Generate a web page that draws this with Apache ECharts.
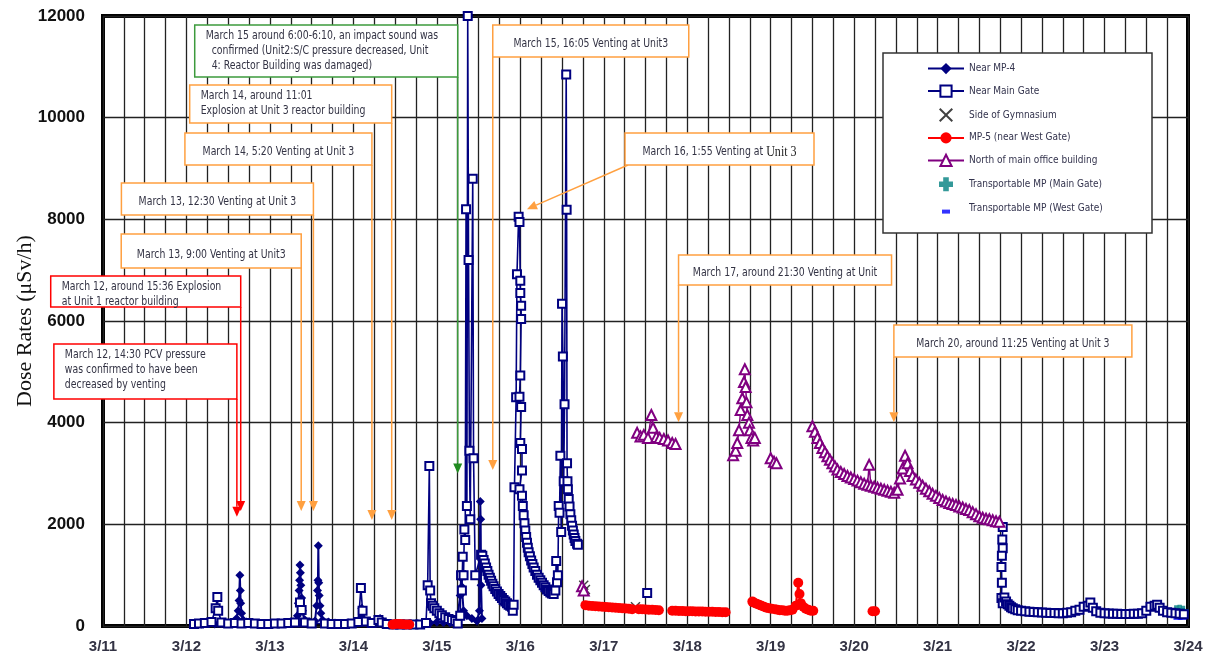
<!DOCTYPE html>
<html>
<head>
<meta charset="utf-8">
<title>Dose Rates</title>
<script src="https://cdn.jsdelivr.net/npm/echarts@6/dist/echarts.min.js"></script>
</head>
<body style="margin:0">
<div id="container" style="width:1211px;height:658px"></div>
<script>
// x = day of March (11.5 = March 11, 12:00), y = dose rate in uSv/h, '-' breaks a line
const nearMP4 = [
  [12.10,30],[12.18,40],[12.26,50],[12.34,40],[12.42,50],[12.50,60],[12.56,80],[12.60,150],[12.62,300],[12.63,500],
  [12.64,1000],[12.645,700],[12.65,450],[12.66,250],[12.68,120],[12.72,80],[12.80,60],[12.88,50],[12.96,50],[13.04,40],
  [13.12,50],[13.20,60],[13.28,80],[13.33,200],[13.34,450],[13.35,700],[13.355,900],[13.36,1200],[13.365,1050],[13.37,800],
  [13.38,550],[13.39,300],[13.42,120],[13.48,80],[13.54,100],[13.56,400],[13.57,700],[13.575,900],[13.58,1580],[13.585,850],
  [13.59,600],[13.60,400],[13.61,250],[13.63,120],[13.70,80],[13.78,60],[13.86,50],[13.94,60],[14.02,70],[14.08,150],
  [14.10,350],[14.11,250],[14.13,120],[14.20,80],[14.28,100],[14.32,150],[14.36,80],[14.44,50],[14.52,40],[14.60,40],
  [14.68,40],[14.76,40],[14.84,50],[14.92,60],[15.00,80],[15.08,70],[15.16,60],[15.24,80],[15.28,600],[15.29,950],
  [15.30,770],[15.32,300],[15.36,200],[15.42,150],[15.48,100],[15.51,300],[15.52,2450],[15.525,2100],[15.53,800],[15.54,150]
];
const nearMainGate = [
  [12.09,40],[12.15,50],[12.22,60],[12.30,80],[12.35,350],[12.37,570],[12.38,300],[12.42,70],[12.50,50],[12.58,60],
  [12.66,50],[12.74,60],[12.82,50],[12.90,40],[12.98,40],[13.06,50],[13.14,50],[13.22,60],[13.30,70],[13.36,460],
  [13.38,315],[13.42,70],[13.50,50],[13.66,50],[13.74,40],[13.82,40],[13.90,40],[13.98,50],[14.06,80],[14.09,750],
  [14.11,300],[14.15,90],[14.22,60],[14.30,120],[14.34,70],[14.40,40],[14.48,30],[14.56,30],[14.64,30],[14.72,30],
  [14.80,30],[14.87,60],[14.89,800],[14.91,3150],[14.92,700],[14.93,450],[14.95,400],[14.97,350],[15.00,300],[15.03,250],
  [15.06,210],[15.10,170],[15.14,140],[15.18,120],[15.22,100],[15.25,50],[15.28,200],[15.29,1000],[15.30,700],[15.31,1360],
  [15.32,1000],[15.33,1900],[15.34,1690],[15.35,8200],[15.36,2360],[15.37,12000],[15.38,7200],[15.39,3450],[15.40,2100],[15.43,8800],
  [15.44,3300],[15.46,1000],[15.53,1400],[15.545,1380],[15.56,1300],[15.575,1230],[15.59,1150],[15.605,1080],[15.62,1010],[15.635,950],
  [15.65,890],[15.665,830],[15.68,780],[15.70,730],[15.72,680],[15.74,630],[15.76,590],[15.78,550],[15.80,510],[15.82,480],
  [15.84,450],[15.86,420],[15.88,400],[15.90,380],[15.91,300],[15.92,420],[15.93,2730],[15.95,4500],[15.96,6920],[15.98,8050],
  [15.99,7950],[16.00,6790],[16.00,6550],[16.01,6300],[16.01,6040],[16.00,4930],[15.99,4510],[16.01,4310],[16.00,3600],[16.02,3480],
  [16.02,3060],[15.99,2690],[16.02,2560],[16.03,2360],[16.04,2180],[16.05,2020],[16.06,1880],[16.07,1750],[16.08,1640],[16.09,1540],
  [16.10,1450],[16.115,1370],[16.13,1290],[16.145,1220],[16.16,1150],[16.18,1080],[16.20,1010],[16.22,950],[16.24,900],[16.26,850],
  [16.28,800],[16.30,760],[16.32,720],[16.34,690],[16.36,660],[16.38,640],[16.40,630],[16.42,700],[16.43,1280],[16.44,860],
  [16.45,1000],[16.46,2360],[16.47,2230],[16.48,3350],[16.49,1850],[16.50,6340],[16.51,5300],[16.52,2850],[16.53,4360],[16.55,10850],
  [16.555,8190],[16.56,3200],[16.565,2850],[16.57,2690],[16.58,2500],[16.59,2350],[16.60,2200],[16.61,2080],[16.62,1970],[16.63,1880],
  [16.64,1800],[16.65,1730],[16.66,1670],[16.68,1620],[16.69,1600],
  [17.1,'-'],
  [17.52,650],
  [19.5,'-'],
  [21.78,1950],[21.775,1700],[21.78,1530],[21.77,1380],[21.765,1160],[21.77,850],[21.765,550],[21.78,450],[21.80,560],[21.82,480],
  [21.84,430],[21.86,400],[21.88,370],[21.90,350],[21.93,330],[21.96,310],[22.00,300],[22.05,290],[22.10,280],[22.15,275],
  [22.20,270],[22.25,265],[22.30,260],[22.35,255],[22.40,255],[22.45,250],[22.50,250],[22.55,260],[22.60,270],[22.65,300],
  [22.70,320],[22.75,380],[22.80,400],[22.83,460],[22.86,360],[22.90,290],[22.95,260],[23.00,250],[23.05,245],[23.10,240],
  [23.15,240],[23.20,235],[23.25,235],[23.30,235],[23.35,240],[23.40,240],[23.45,250],[23.50,300],[23.55,380],[23.60,400],
  [23.63,420],[23.66,360],[23.70,300],[23.75,270],[23.80,260],[23.85,250],[23.90,240],[23.95,230]
];
const sideOfGym = [[16.76,800],[16.78,720],[17.38,380]];
const mp5 = [
  [14.47,30],[14.51,40],[14.55,40],[14.59,35],[14.63,30],[14.67,30],
  [15.5,'-'],
  [16.78,410],[16.82,400],[16.86,395],[16.90,390],[16.94,385],[16.98,380],[17.02,375],[17.06,370],[17.10,365],[17.14,360],
  [17.18,355],[17.22,350],[17.26,345],[17.30,340],[17.34,330],
  [17.38,'-'],
  [17.42,330],[17.46,330],[17.50,325],[17.54,320],[17.58,320],[17.62,315],[17.66,310],
  [17.75,'-'],
  [17.82,300],[17.86,300],[17.90,295],[17.94,295],[17.98,290],[18.02,290],[18.06,290],[18.10,285],[18.14,285],[18.18,285],
  [18.22,280],[18.26,280],[18.30,280],[18.34,275],[18.38,275],[18.42,270],[18.46,270],
  [18.6,'-'],
  [18.78,480],[18.80,460],[18.83,440],[18.86,420],[18.89,400],[18.92,380],[18.95,360],[18.98,350],[19.01,340],
  [19.03,'-'],
  [19.05,330],[19.08,320],[19.11,310],[19.14,310],[19.17,300],[19.20,300],[19.23,310],[19.26,320],[19.30,400],[19.33,850],
  [19.345,630],[19.36,450],[19.39,380],[19.42,340],[19.45,320],[19.48,300],[19.51,300],
  [19.9,'-'],
  [20.22,290],[20.25,290]
];
const northOffice = [
  [16.74,780],[16.76,700],
  [17.0,'-'],
  [17.40,3800],[17.44,3730],[17.48,3760],[17.53,3700],[17.57,4150],[17.59,3900],[17.63,3720],[17.67,3700],[17.72,3680],[17.77,3650],
  [17.82,3600],[17.86,3580],
  [18.2,'-'],
  [18.55,3360],[18.58,3450],[18.60,3600],[18.62,3850],[18.64,4250],[18.66,4480],[18.68,4800],[18.69,5050],[18.70,4700],[18.71,4400],
  [18.72,4150],[18.74,4000],[18.75,3850],[18.77,3700],[18.79,3650],[18.81,3700],
  [18.9,'-'],
  [19.00,3300],[19.04,3230],[19.07,3200],
  [19.3,'-'],
  [19.50,3930],[19.53,3820],[19.56,3700],[19.59,3600],[19.62,3500],[19.65,3420],[19.68,3340],[19.71,3270],[19.74,3200],[19.77,3140],
  [19.80,3080],[19.84,3030],[19.88,2990],[19.92,2950],[19.96,2920],[20.00,2890],[20.04,2860],[20.08,2830],[20.12,2800],[20.16,2780],
  [20.18,3170],[20.20,2760],[20.24,2740],[20.28,2720],[20.32,2700],[20.36,2680],[20.40,2660],[20.44,2640],[20.48,2620],[20.52,2680],
  [20.55,2900],[20.58,3100],[20.61,3350],[20.64,3200],[20.67,3050],[20.70,2950],[20.74,2880],[20.78,2820],[20.82,2760],[20.86,2700],
  [20.90,2650],[20.94,2600],[20.98,2560],[21.02,2520],[21.06,2480],[21.10,2450],[21.14,2420],[21.18,2400],[21.22,2380],[21.26,2350],
  [21.30,2330],[21.34,2300],[21.38,2280],[21.42,2240],[21.46,2200],[21.50,2160],[21.54,2130],[21.58,2110],[21.62,2100],[21.66,2080],
  [21.70,2060],[21.74,2050]
];
const transMainGate = [[23.86,300],[23.90,310],[23.94,290]];
const transWestGate = [[23.88,160],[23.93,160]];

// event annotations: day of March, value the arrow points at
const annotations = [
  {text: 'March 15 around 6:00-6:10, an impact sound was\n  confirmed (Unit2:S/C pressure decreased, Unit\n  4: Reactor Building was damaged)', day: 15.25, tip: 3000, side: 'right', top: 25, w: 263, h: 52, color: '#3c9a3c', head: '#1f8a1f'},
  {text: 'March 14, around 11:01\nExplosion at Unit 3 reactor building', day: 14.459, tip: 2085, side: 'right', top: 85, w: 202, h: 38, color: '#ffa040'},
  {text: 'March 14, 5:20 Venting at Unit 3', day: 14.222, tip: 2085, side: 'right', top: 133, w: 187, h: 32, color: '#ffa040'},
  {text: 'March 13, 12:30 Venting at Unit 3', day: 13.521, tip: 2260, side: 'right', top: 183, w: 192, h: 32, color: '#ffa040'},
  {text: 'March 13, 9:00 Venting at Unit3', day: 13.375, tip: 2260, side: 'right', top: 234, w: 180, h: 34, color: '#ffa040'},
  {text: 'March 12, around 15:36 Explosion\nat Unit 1 reactor building', day: 12.65, tip: 2260, side: 'right', top: 276, w: 190, h: 31, color: '#ff0000'},
  {text: 'March 12, 14:30 PCV pressure\nwas confirmed to have been\ndecreased by venting', day: 12.604, tip: 2150, side: 'right', top: 344, w: 183, h: 55, color: '#ff0000'},
  {text: 'March 15, 16:05 Venting at Unit3', day: 15.67, tip: 3070, side: 'left', top: 25, w: 196, h: 32, color: '#ffa040'},
  {text: '{a|March 16, 1:55 Venting at }{b|Unit 3}', day: 16.08, tip: 8200, boxLeft: 625, top: 133, w: 189, h: 32, color: '#ffa040'},
  {text: 'March 17, around 21:30 Venting at Unit', day: 17.896, tip: 4010, side: 'left', top: 255, w: 213, h: 30, color: '#ffa040'},
  {text: 'March 20, around 11:25 Venting at Unit 3', day: 20.476, tip: 4010, side: 'left', top: 325, w: 238, h: 32, color: '#ffa040'}
];

const narrow = '"DejaVu Sans Condensed", "Liberation Sans Narrow", sans-serif';
const navy = '#000080';

let container = document.getElementById('container');
let chart = echarts.init(container);

chart.setOption({
  animation: false,
  backgroundColor: '#fff',
  grid: {left: 103, right: 23, top: 16, bottom: 32, show: true, borderColor: '#000', borderWidth: 4,
    outerBoundsMode: 'none', containLabel: false},
  legend: {
    left: 927, top: 63, orient: 'vertical', padding: 0,
    itemWidth: 36, itemHeight: 14, itemGap: 10.3,
    textStyle: {fontFamily: narrow, fontSize: 10, color: '#33334d'},
    data: ['Near MP-4', 'Near Main Gate', 'Side of Gymnasium', 'MP-5 (near West Gate)',
      'North of main office building', 'Transportable MP (Main Gate)',
      {name: 'Transportable MP (West Gate)', icon: 'path://M0,0M36,14M14,8H22V12H14Z'}]
  },
  xAxis: {
    type: 'value', min: 11, max: 24, interval: 0.25,
    axisLine: {show: false}, axisTick: {show: false},
    axisLabel: {
      interval: 0, margin: 13, fontFamily: 'Liberation Sans', fontSize: 15, fontWeight: 'bold', color: '#333344',
      formatter: v => Number.isInteger(v) ? '3/' + v : ''
    },
    splitLine: {show: true, lineStyle: {color: '#222', width: 1.3}}
  },
  yAxis: {
    type: 'value', min: 0, max: 12000, interval: 2000,
    name: 'Dose Rates (\u03bcSv/h)', nameLocation: 'middle', nameGap: 67, nameMoveOverlap: false,
    nameTextStyle: {fontFamily: 'Liberation Serif', fontSize: 22, color: '#111'},
    axisLine: {show: false}, axisTick: {show: false},
    axisLabel: {margin: 18, fontFamily: 'Liberation Sans', fontSize: 17, fontWeight: 'bold', color: '#111',
      formatter: v => String(v)},
    splitLine: {show: true, lineStyle: {color: '#222', width: 1.3}}
  },
  series: [
    {name: 'Near MP-4', type: 'line', data: nearMP4, symbol: 'diamond', symbolSize: 9, showAllSymbol: true,
      itemStyle: {color: navy}, lineStyle: {color: navy, width: 2}},
    {name: 'Near Main Gate', type: 'line', data: nearMainGate, symbol: 'emptyRect', symbolSize: 8, showAllSymbol: true,
      itemStyle: {color: navy, borderWidth: 2}, lineStyle: {color: navy, width: 1.6}},
    {name: 'Side of Gymnasium', type: 'scatter', data: sideOfGym,
      symbol: 'path://M0,1L1,0L5,4L9,0L10,1L6,5L10,9L9,10L5,6L1,10L0,9L4,5Z', symbolSize: 10, itemStyle: {color: '#111'}},
    {name: 'MP-5 (near West Gate)', type: 'line', data: mp5, symbol: 'circle', symbolSize: 10, showAllSymbol: true,
      itemStyle: {color: '#ff0000'}, lineStyle: {color: '#ff0000', width: 2}},
    {name: 'North of main office building', type: 'line', data: northOffice, symbol: 'emptyTriangle', symbolSize: 10, showAllSymbol: true,
      itemStyle: {color: '#800080', borderWidth: 1.5}, lineStyle: {color: '#800080', width: 1.5}},
    {name: 'Transportable MP (Main Gate)', type: 'scatter', data: transMainGate,
      symbol: 'path://M3,0H7V3H10V7H7V10H3V7H0V3H3Z', symbolSize: 11, itemStyle: {color: '#008080'}},
    {name: 'Transportable MP (West Gate)', type: 'scatter', data: transWestGate,
      symbol: 'rect', symbolSize: [9, 4], itemStyle: {color: '#0000ff'}}
  ]
});

// annotation boxes and arrows, placed from the event times
let graphics = [
  {type: 'rect', z: 3, shape: {x: 883, y: 53, width: 269, height: 180}, style: {fill: '#fff', stroke: '#333', lineWidth: 1.5}}
];
annotations.forEach(a => {
  const tip = chart.convertToPixel({gridIndex: 0}, [a.day, a.tip]);
  let left = a.boxLeft != null ? a.boxLeft : (a.side === 'right' ? tip[0] - a.w : tip[0]);
  let start = a.boxLeft != null ? [left + 3, a.top + a.h] : [tip[0], a.top + a.h];
  let dx = tip[0] - start[0], dy = tip[1] - start[1];
  let len = Math.sqrt(dx * dx + dy * dy), ux = dx / len, uy = dy / len;
  let bx = tip[0] - ux * 10, by = tip[1] - uy * 10;
  graphics.push({type: 'line', z: 50, shape: {x1: start[0], y1: start[1], x2: bx, y2: by},
    style: {stroke: a.color, lineWidth: 1.5}});
  graphics.push({type: 'polygon', z: 50, shape: {points: [[bx - uy * 4.5, by + ux * 4.5], [bx + uy * 4.5, by - ux * 4.5], tip]},
    style: {fill: a.head || a.color}});
  graphics.push({type: 'rect', z: 51, shape: {x: left, y: a.top, width: a.w, height: a.h},
    style: {fill: '#fff', stroke: a.color, lineWidth: 1.5}});
  const multi = a.text.indexOf('\n') >= 0;
  graphics.push({type: 'text', z: 52,
    x: multi ? left + 11 : left + a.w / 2, y: multi ? a.top + 3 : a.top + a.h * 0.6, scaleX: 0.83,
    style: {
      text: a.text, x: 0, y: 0,
      align: multi ? 'left' : 'center', verticalAlign: multi ? 'top' : 'middle',
      fontFamily: narrow, fontSize: 12.5, lineHeight: 15, fill: '#333344',
      rich: {a: {fontFamily: narrow, fontSize: 12.5, fill: '#333344'}, b: {fontFamily: 'Liberation Serif', fontSize: 14.5, fill: '#222'}}
    }});
});
chart.setOption({graphic: graphics});
</script>
</body>
</html>
